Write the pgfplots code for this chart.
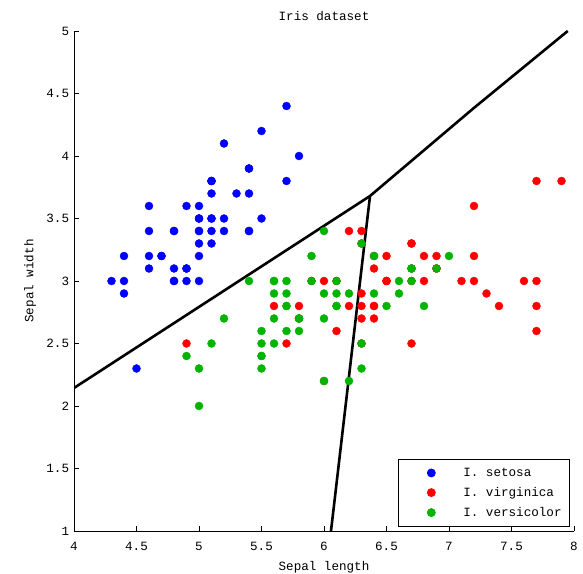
\documentclass[border=0pt]{standalone}
\usepackage{fontspec}
\setmainfont{Liberation Mono}
\usepackage{pgfplots}
\pgfplotsset{compat=1.18}
\definecolor{mblue}{RGB}{0,0,255}
\definecolor{mred}{RGB}{255,0,0}
\definecolor{mgreen}{RGB}{0,180,0}
\begin{document}
\fontsize{12.6bp}{14bp}\selectfont
\begin{tikzpicture}
\useasboundingbox (-74bp,-43bp) rectangle (509bp,531bp);
\begin{axis}[
  at={(0,0)}, anchor=south west,
  scale only axis, width=500bp, height=500bp,
  xmin=4, xmax=8, ymin=1, ymax=5,
  axis x line*=bottom, axis y line*=left,
  axis line style={-, black, line width=0.8bp},
  tick align=inside, major tick length=5bp,
  tick style={black, line width=0.8bp},
  xtick={4,4.5,5,5.5,6,6.5,7,7.5,8},
  xticklabels={4,4.5,5,5.5,6,6.5,7,7.5,8},
  ytick={1,1.5,2,2.5,3,3.5,4,4.5,5},
  yticklabels={1,1.5,2,2.5,3,3.5,4,4.5,5},
  font=\fontsize{12.6bp}{14bp}\selectfont,
  xticklabel style={anchor=base, yshift=-19bp},
  yticklabel style={anchor=east, xshift=-0.5bp},
  title={Iris dataset},
  title style={at={(0.5,1)}, anchor=base, yshift=4.5bp},
  xlabel={Sepal length},
  xlabel style={at={(axis description cs:0.5,0)}, anchor=base, yshift=-39bp},
  ylabel={Sepal width},
  ylabel style={at={(axis description cs:-0.088,0.5)}, anchor=center, rotate=0},
  legend style={at={(1,0)}, anchor=south east, xshift=-4bp, yshift=4bp,
    draw=black, line width=0.8bp, inner xsep=6bp, inner ysep=6.5bp,
    row sep=5bp,
    font=\fontsize{12.6bp}{14bp}\selectfont},
  legend cell align=left,
  legend image code/.code={\path[draw=none, fill=none] (0bp,0bp) -- (57bp,0bp);
     \path[#1, only marks] plot coordinates {(27bp,0bp)};},
]
% I. setosa
\addplot[only marks, mark=*, mark size=4bp, color=mblue, mark options={draw=mblue, fill=mblue}] coordinates {
(5.1,3.5)(4.9,3.0)(4.7,3.2)(4.6,3.1)(5.0,3.6)(5.4,3.9)(4.6,3.4)(5.0,3.4)(4.4,2.9)(4.9,3.1)
(5.4,3.7)(4.8,3.4)(4.8,3.0)(4.3,3.0)(5.8,4.0)(5.7,4.4)(5.4,3.9)(5.1,3.5)(5.7,3.8)(5.1,3.8)
(5.4,3.4)(5.1,3.7)(4.6,3.6)(5.1,3.3)(4.8,3.4)(5.0,3.0)(5.0,3.4)(5.2,3.5)(5.2,3.4)(4.7,3.2)
(4.8,3.1)(5.4,3.4)(5.2,4.1)(5.5,4.2)(4.9,3.1)(5.0,3.2)(5.5,3.5)(4.9,3.6)(4.4,3.0)(5.1,3.4)
(5.0,3.5)(4.5,2.3)(4.4,3.2)(5.0,3.5)(5.1,3.8)(4.8,3.0)(5.1,3.8)(4.6,3.2)(5.3,3.7)(5.0,3.3)
};
\addlegendentry{I. setosa}
% I. virginica
\addplot[only marks, mark=*, mark size=4bp, color=mred, mark options={draw=mred, fill=mred}] coordinates {
(6.3,3.3)(5.8,2.7)(7.1,3.0)(6.3,2.9)(6.5,3.0)(7.6,3.0)(4.9,2.5)(7.3,2.9)(6.7,2.5)(7.2,3.6)
(6.5,3.2)(6.4,2.7)(6.8,3.0)(5.7,2.5)(5.8,2.8)(6.4,3.2)(6.5,3.0)(7.7,3.8)(7.7,2.6)(6.0,2.2)
(6.9,3.2)(5.6,2.8)(7.7,2.8)(6.3,2.7)(6.7,3.3)(7.2,3.2)(6.2,2.8)(6.1,3.0)(6.4,2.8)(7.2,3.0)
(7.4,2.8)(7.9,3.8)(6.4,2.8)(6.3,2.8)(6.1,2.6)(7.7,3.0)(6.3,3.4)(6.4,3.1)(6.0,3.0)(6.9,3.1)
(6.7,3.1)(6.9,3.1)(5.8,2.7)(6.8,3.2)(6.7,3.3)(6.7,3.0)(6.3,2.5)(6.5,3.0)(6.2,3.4)(5.9,3.0)
};
\addlegendentry{I. virginica}
% I. versicolor
\addplot[only marks, mark=*, mark size=4bp, color=mgreen, mark options={draw=mgreen, fill=mgreen}] coordinates {
(7.0,3.2)(6.4,3.2)(6.9,3.1)(5.5,2.3)(6.5,2.8)(5.7,2.8)(6.3,3.3)(4.9,2.4)(6.6,2.9)(5.2,2.7)
(5.0,2.0)(5.9,3.0)(6.0,2.2)(6.1,2.9)(5.6,2.9)(6.7,3.1)(5.6,3.0)(5.8,2.7)(6.2,2.2)(5.6,2.5)
(5.9,3.2)(6.1,2.8)(6.3,2.5)(6.1,2.8)(6.4,2.9)(6.6,3.0)(6.8,2.8)(6.7,3.0)(6.0,2.9)(5.7,2.6)
(5.5,2.4)(5.5,2.4)(5.8,2.7)(6.0,2.7)(5.4,3.0)(6.0,3.4)(6.7,3.1)(6.3,2.3)(5.6,3.0)(5.5,2.5)
(5.5,2.6)(6.1,3.0)(5.8,2.6)(5.0,2.3)(5.6,2.7)(5.7,3.0)(5.7,2.9)(6.2,2.9)(5.1,2.5)(5.7,2.8)
};
\addlegendentry{I. versicolor}
% decision boundaries
\addplot[black, line width=2.6bp, forget plot] coordinates {(4,2.144)(6.368,3.68)(7.194,4.38)(7.95,5.0)};
\addplot[black, line width=2.6bp, forget plot] coordinates {(6.368,3.68)(6.056,1.0)};
\end{axis}
\end{tikzpicture}
\end{document}
